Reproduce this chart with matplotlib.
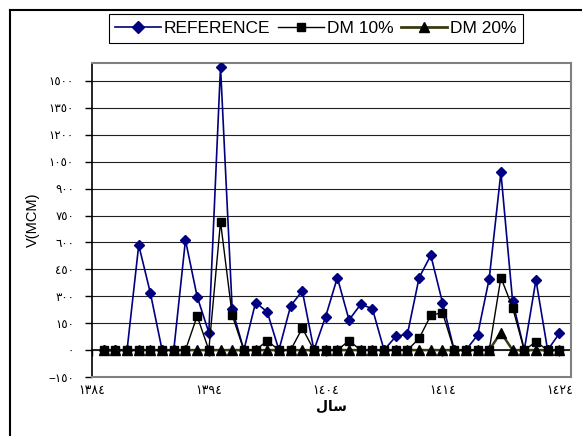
import matplotlib
matplotlib.use("Agg")
import matplotlib.pyplot as plt
from matplotlib.ticker import FuncFormatter, MultipleLocator
from matplotlib.lines import Line2D

plt.rcParams['font.family'] = ['Liberation Sans', 'DejaVu Sans']

# === data ===
years = [1385, 1386, 1387, 1388, 1389, 1390, 1391, 1392, 1393, 1394,
         1395, 1396, 1397, 1398, 1399, 1400, 1401, 1402, 1403, 1404,
         1405, 1406, 1407, 1408, 1409, 1410, 1411, 1412, 1413, 1414,
         1415, 1416, 1417, 1418, 1419, 1420, 1421, 1422, 1423, 1424]
reference = [0, 0, 0, 585, 317, 0, 0, 613, 298, 98,
             1580, 228, 0, 265, 213, 0, 246, 330, 0, 187,
             404, 168, 255, 231, 0, 76, 89, 404, 528, 265,
             0, 0, 83, 398, 990, 274, 0, 391, 0, 93]
dm10 = [0, 0, 0, 0, 0, 0, 0, 0, 190, 0,
        715, 194, 0, 0, 52, 0, 0, 122, 0, 0,
        0, 52, 0, 0, 0, 0, 0, 65, 194, 209,
        0, 0, 0, 0, 404, 237, 0, 46, 0, 0]
dm20 = [0, 0, 0, 0, 0, 0, 0, 0, 0, 0,
        0, 0, 0, 0, 0, 0, 0, 0, 0, 0,
        0, 0, 0, 0, 0, 0, 0, 0, 0, 0,
        0, 0, 0, 0, 98, 0, 0, 0, 0, 0]
x_ticks = [1384, 1394, 1404, 1414, 1424]

AR_DIGITS = str.maketrans("0123456789-", "٠١٢٣٤٥٦٧٨٩−")


def arabic(v, pos=None):
    return str(int(round(v))).translate(AR_DIGITS)


fig = plt.figure(figsize=(5.82, 4.36), dpi=100)
ax = fig.add_axes([92 / 582, 1 - 377 / 436, 479 / 582, 314 / 436])

# series (REF at bottom, DM10 on top)
ax.plot(years, reference, color='#000080', lw=1.2, marker='D', markersize=5.5,
        label='REFERENCE', zorder=3)
ax.plot(years, dm20, color='#3a3a10', lw=1.8, marker='^', markersize=6.5,
        markerfacecolor='black', markeredgecolor='black', label='DM 20%', zorder=4)
ax.plot(years, dm10, color='black', lw=1.0, marker='s', markersize=6,
        label='DM 10%', zorder=5)

ax.set_xlim(1384, 1425)
ax.set_ylim(-150, 1600)
ax.yaxis.set_major_locator(MultipleLocator(150))
ax.yaxis.set_major_formatter(FuncFormatter(arabic))
ax.set_yticks(range(-150, 1501, 150))
ax.grid(axis='y', color='#202020', lw=0.8)
ax.set_axisbelow(True)

ax.set_xticks(x_ticks)
ax.set_xticklabels([arabic(t) for t in x_ticks], fontsize=9)
ax.tick_params(axis='x', length=0, pad=6)
ax.tick_params(axis='y', direction='out', length=5, width=1, labelsize=8.5, pad=8)

for side in ['top', 'right', 'bottom']:
    ax.spines[side].set_color('#808080')
    ax.spines[side].set_linewidth(1.5)
ax.spines['left'].set_color('black')
ax.spines['left'].set_linewidth(1.2)

# category axis crossing at zero with tick marks
zero_frac = 150 / 1750
sec = ax.secondary_xaxis(zero_frac)
sec.set_xticks(x_ticks)
sec.set_xticklabels([])
sec.tick_params(direction='out', length=4, width=1, colors='black')
sec.spines['bottom'].set_color('black')
sec.spines['bottom'].set_linewidth(1.2)

ax.set_ylabel('V(MCM)', fontsize=10.5, labelpad=6)
ax.set_xlabel('\uFEDD\uFE8E\uFEB3', fontsize=10, fontweight='bold',
              family=['DejaVu Sans'], labelpad=2)

# legend
handles = [
    Line2D([], [], color='#000080', lw=1.2, marker='D', markersize=6),
    Line2D([], [], color='black', lw=1.0, marker='s', markersize=5.5),
    Line2D([], [], color='#3a3a10', lw=2.0, marker='^', markersize=6.5,
           markerfacecolor='black', markeredgecolor='black'),
]
leg = fig.legend(handles, ['REFERENCE', 'DM 10%', 'DM 20%'], loc='upper center',
                 bbox_to_anchor=(316 / 582, 1 - 14 / 436), ncol=3, fontsize=12.5,
                 frameon=True, fancybox=False, edgecolor='black', framealpha=1,
                 handlelength=2.6, handletextpad=0.2, columnspacing=0.45,
                 borderpad=0.4, borderaxespad=0)
leg.get_frame().set_linewidth(0.8)

# chart area border (left and top visible)
fig.add_artist(Line2D([10 / 582, 10 / 582], [0, 1 - 10 / 436], color='black',
                      lw=1.5, transform=fig.transFigure))
fig.add_artist(Line2D([10 / 582, 1], [1 - 10 / 436, 1 - 10 / 436], color='black',
                      lw=1.5, transform=fig.transFigure))

fig.savefig('out.png', dpi=100)
